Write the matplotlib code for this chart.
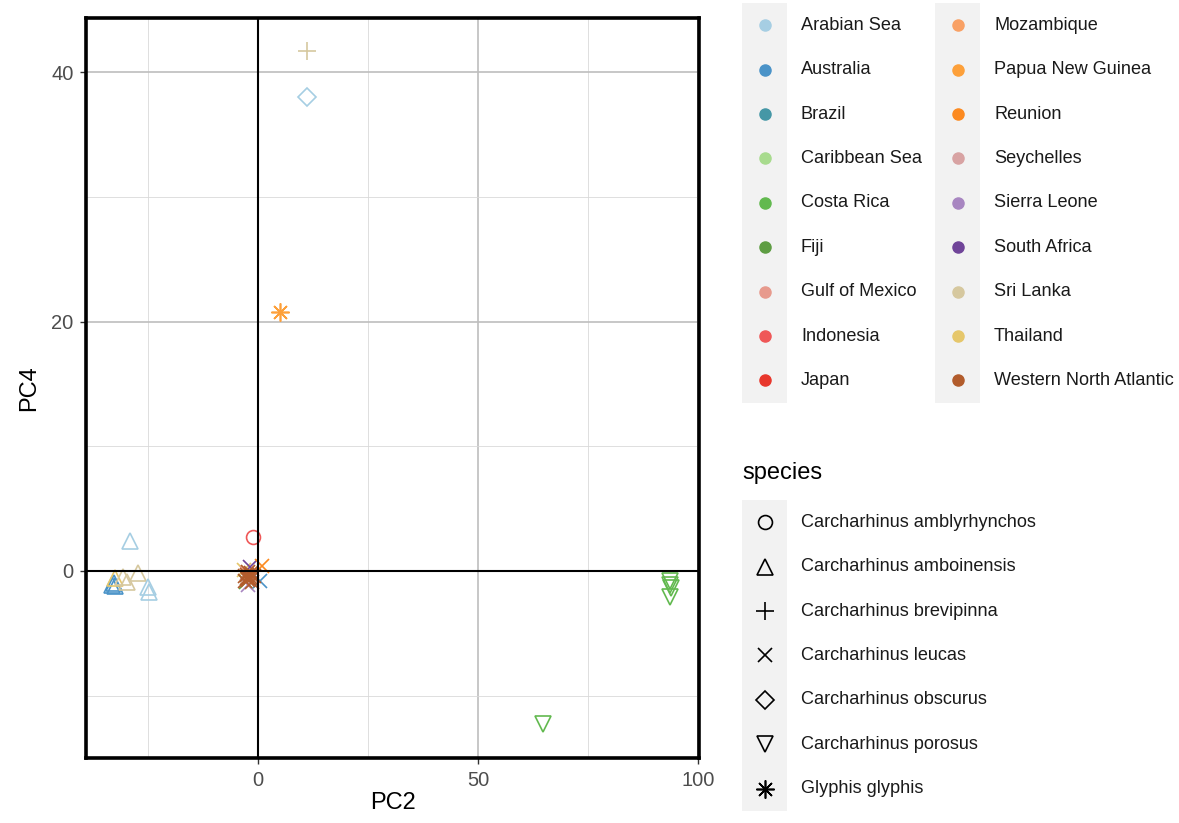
import matplotlib
matplotlib.use("Agg")
import matplotlib.pyplot as plt
from matplotlib.patches import Rectangle

plt.rcParams['font.family'] = ['Liberation Sans', 'DejaVu Sans']

# ---------------- data ----------------
countries = ["Arabian Sea", "Australia", "Brazil", "Caribbean Sea", "Costa Rica", "Fiji",
             "Gulf of Mexico", "Indonesia", "Japan", "Mozambique", "Papua New Guinea",
             "Reunion", "Seychelles", "Sierra Leone", "South Africa", "Sri Lanka",
             "Thailand", "Western North Atlantic"]
country_colors = ["#A6CEE3", "#4A93C8", "#4597A6", "#A8DB8E", "#62B94F", "#5E9D43",
                  "#E79A8D", "#EF5757", "#E8372C", "#F9A165", "#FDA03A",
                  "#FC8A20", "#D8A3A3", "#A886C1", "#704499", "#D6C89F",
                  "#E6C76B", "#B25C2C"]
species = ["Carcharhinus amblyrhynchos", "Carcharhinus amboinensis", "Carcharhinus brevipinna",
           "Carcharhinus leucas", "Carcharhinus obscurus", "Carcharhinus porosus",
           "Glyphis glyphis"]

pc2 = [11.1, 11.1, 5.0, -1.1,
       64.8, 93.7, 93.6, 93.8, 93.5,
       -29.1, -33.2, -32.8, -32.5, -32.4, -30.7, -29.8, -27.3, -25.0, -24.8,
       -3.2, -2.8, -1.8, 0.9, 0.4, -2.6, -2.2,
       -2.5, -2.0, -1.5, -3.0, -1.0, -2.2, -1.8, -2.6, -1.4, -2.9, -2.3, -1.7]
pc4 = [41.7, 38.0, 20.8, 2.7,
       -12.3, -0.8, -1.1, -1.4, -2.1,
       2.4, -1.1, -1.0, -1.2, -0.6, -0.5, -0.9, -0.2, -1.3, -1.7,
       0.1, -0.9, 0.3, 0.4, -0.8, -0.2, -1.1,
       -0.3, -0.6, -0.2, -0.8, -0.4, -0.1, -0.5, -0.6, -0.9, -0.4, -0.7, -0.3]
country = ["Sri Lanka", "Arabian Sea", "Papua New Guinea", "Indonesia",
           "Costa Rica", "Costa Rica", "Costa Rica", "Costa Rica", "Costa Rica",
           "Arabian Sea", "Australia", "Australia", "Australia", "Thailand", "Sri Lanka",
           "Sri Lanka", "Sri Lanka", "Arabian Sea", "Arabian Sea",
           "Thailand", "Fiji", "South Africa", "Reunion", "Australia", "Gulf of Mexico",
           "Sierra Leone",
           "Western North Atlantic", "Western North Atlantic", "Western North Atlantic",
           "Western North Atlantic", "Western North Atlantic", "Western North Atlantic",
           "Western North Atlantic", "Western North Atlantic", "Western North Atlantic",
           "Western North Atlantic", "Western North Atlantic", "Western North Atlantic"]
sp = ["Carcharhinus brevipinna", "Carcharhinus obscurus", "Glyphis glyphis",
      "Carcharhinus amblyrhynchos",
      "Carcharhinus porosus", "Carcharhinus porosus", "Carcharhinus porosus",
      "Carcharhinus porosus", "Carcharhinus porosus",
      "Carcharhinus amboinensis", "Carcharhinus amboinensis", "Carcharhinus amboinensis",
      "Carcharhinus amboinensis", "Carcharhinus amboinensis", "Carcharhinus amboinensis",
      "Carcharhinus amboinensis", "Carcharhinus amboinensis", "Carcharhinus amboinensis",
      "Carcharhinus amboinensis"] + ["Carcharhinus leucas"] * 19

x_ticks = [0, 50, 100]
y_ticks = [0, 20, 40]

# ---------------- style ----------------
markers = {"Carcharhinus amblyrhynchos": ("o", 10),
           "Carcharhinus amboinensis": ("^", 11),
           "Carcharhinus brevipinna": ("+", 13),
           "Carcharhinus leucas": ("x", 10),
           "Carcharhinus obscurus": ("D", 9),
           "Carcharhinus porosus": ("v", 11),
           "Glyphis glyphis": ((8, 2, 0), 13)}
cmap = dict(zip(countries, country_colors))

W, H = 1179, 823
fig = plt.figure(figsize=(W / 100, H / 100), dpi=100)
ax = fig.add_axes([86 / W, 1 - 758 / H, (699 - 86) / W, (758 - 18) / H])

for xi, yi, c, s in zip(pc2, pc4, country, sp):
    m, ms = markers[s]
    filled = m in ("+", "x") or isinstance(m, tuple)
    if filled:
        ax.plot([xi], [yi], linestyle="none", marker=m, markersize=ms, color=cmap[c],
                markeredgewidth=1.2, zorder=2)
    else:
        ax.plot([xi], [yi], linestyle="none", marker=m, markersize=ms, markerfacecolor="none",
                markeredgecolor=cmap[c], markeredgewidth=1.2, zorder=2)

ax.set_xlim(-39.1, 100.2)
ax.set_ylim(-15.0, 44.35)
ax.set_xticks(x_ticks)
ax.set_yticks(y_ticks)
ax.set_xticks([-25, 25, 75], minor=True)
ax.set_yticks([-10, 10, 30], minor=True)
ax.grid(which="major", color="#BEBEBE", linewidth=1.2, zorder=0)
ax.grid(which="minor", color="#D9D9D9", linewidth=0.6, zorder=0)
ax.set_axisbelow(True)
ax.axhline(0, color="black", linewidth=1.5, zorder=3)
ax.axvline(0, color="black", linewidth=1.5, zorder=3)
for sp_ in ax.spines.values():
    sp_.set_linewidth(2.6)
    sp_.set_color("black")
ax.tick_params(which="major", length=4, width=1, color="#333333", labelcolor="#4D4D4D",
               labelsize=14.5, pad=5)
ax.tick_params(which="minor", length=0)
ax.set_xlabel("PC2", fontsize=17, color="black", labelpad=2)
ax.set_ylabel("PC4", fontsize=17, color="black", labelpad=8)

# ---------------- legends (pixel coords overlay) ----------------
lax = fig.add_axes([0, 0, 1, 1])
lax.set_xlim(0, W)
lax.set_ylim(H, 0)
lax.axis("off")

step = 44.4
top = 3
for i, (name, col) in enumerate(zip(countries, country_colors)):
    column = i // 9
    row = i % 9
    kx = 742 + column * 193
    ky = top + row * step
    lax.add_patch(Rectangle((kx, ky), 45, step, facecolor="#F2F2F2", edgecolor="none"))
    lax.plot([kx + 22.5], [ky + step / 2], marker="o", markersize=8, color=col,
             linestyle="none")
    lax.text(kx + 59, ky + step / 2, name, fontsize=13.1, va="center", ha="left",
             color="#1A1A1A")

lax.text(742, 473, "species", fontsize=17, va="center", ha="left", color="black")
stop = 500
for i, name in enumerate(species):
    ky = stop + i * step
    lax.add_patch(Rectangle((742, ky), 45, step, facecolor="#F2F2F2", edgecolor="none"))
    m, ms = markers[name]
    if m in ("+", "x") or isinstance(m, tuple):
        lax.plot([764.5], [ky + step / 2], marker=m, markersize=ms, color="black",
                 markeredgewidth=1.2, linestyle="none")
    else:
        lax.plot([764.5], [ky + step / 2], marker=m, markersize=ms, markerfacecolor="none",
                 markeredgecolor="black", markeredgewidth=1.2, linestyle="none")
    lax.text(801, ky + step / 2, name, fontsize=13.1, va="center", ha="left",
             color="#1A1A1A")

fig.savefig("out.png", dpi=100)
